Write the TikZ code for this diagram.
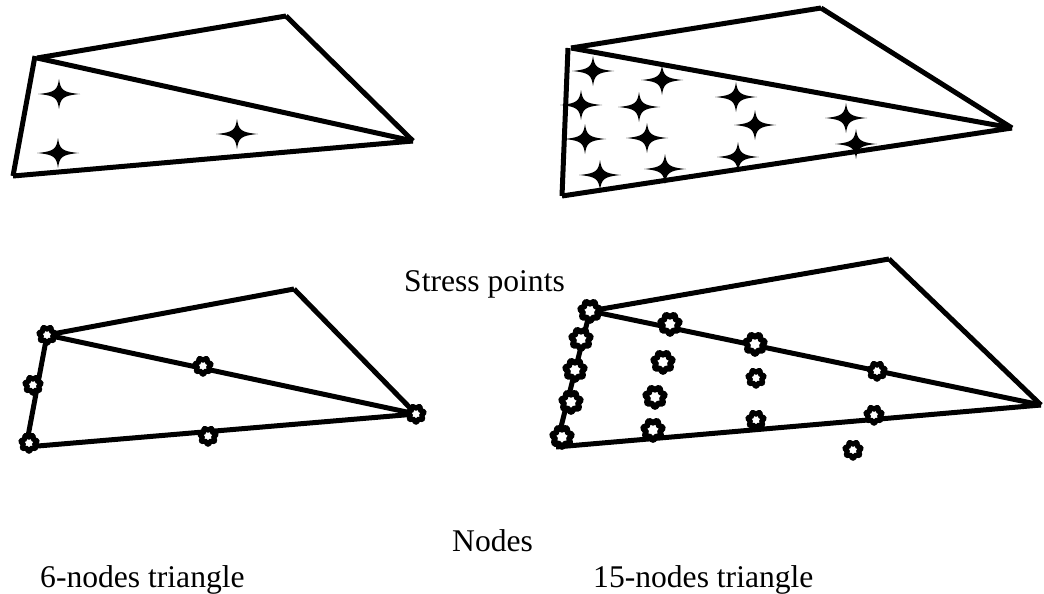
\documentclass[tikz,border=0pt]{standalone}
\usepackage{fontspec}
\setmainfont{Liberation Serif}
\newcommand{\ringpath}[2]{plot[domain=0:353.57,samples=56,smooth cycle] ({(#1+#2*cos(7*\x+90))*cos(\x)},{(#1+#2*cos(7*\x+90))*sin(\x)})}
\begin{document}
\begin{tikzpicture}[x=1pt,y=-1pt,line cap=butt,
  edge/.style={line width=5pt,black},
  lab/.style={inner sep=0pt,anchor=base west,font=\fontsize{31.6pt}{36pt}\selectfont},
  sp/.pic={\fill[black] (-21,0) .. controls (-4,-1.5) and (-1.5,-4) .. (0,-15) .. controls (1.5,-4) and (4,-1.5) .. (21,0) .. controls (4,1.5) and (1.5,4) .. (0,15) .. controls (-1.5,4) and (-4,1.5) .. (-21,0) -- cycle;},
  ndbig/.pic={\draw[line width=5.6pt,black,fill=white] \ringpath{8.6}{1.3};},
  ndsmall/.pic={\draw[line width=5pt,black,fill=white] \ringpath{7}{1.1};}]
\useasboundingbox (0,0) rectangle (1044,594);
% top left element
\coordinate (a1) at (35,56); \coordinate (a1b) at (37,58); \coordinate (b1) at (286,16);
\coordinate (c1) at (413,141); \coordinate (d1) at (13,176);
\draw[edge] (a1b) -- (b1); \draw[edge] (b1) -- (c1); \draw[edge] (a1b) -- (c1);
\draw[edge] (d1) -- (c1); \draw[edge] (d1) -- (a1);
\foreach \p in {(59,94),(58,153),(237,134)} \pic at \p {sp};
% top right element
\coordinate (a2) at (568,48); \coordinate (a2b) at (571,48); \coordinate (b2) at (821,8);
\coordinate (c2) at (1012,128); \coordinate (d2) at (562,196);
\draw[edge] (a2b) -- (b2); \draw[edge] (b2) -- (c2); \draw[edge] (a2b) -- (c2);
\draw[edge] (d2) -- (c2); \draw[edge] (d2) -- (a2);
\foreach \p in {(593,71),(662,80),(736,97),(581,105),(639,107),(755,125),(846,118),(585,139),(647,138),(856,144),(738,157),(665,169),(600,175)} \pic at \p {sp};
% bottom left element
\coordinate (a3) at (47,335); \coordinate (b3) at (294,289); \coordinate (c3) at (416,414); \coordinate (d3) at (26,447);
\draw[edge] (a3) -- (b3); \draw[edge] (b3) -- (c3); \draw[edge] (a3) -- (c3);
\draw[edge] (d3) -- (c3); \draw[edge] (d3) -- (a3);
\foreach \p in {(47,335),(33,385),(29,443),(203,366),(208,436),(416,414)} \pic at \p {ndsmall};
% bottom right element
\coordinate (a4) at (590,311); \coordinate (b4) at (889,259); \coordinate (c4) at (1041,405); \coordinate (d4) at (556,447);
\draw[edge] (a4) -- (b4); \draw[edge] (b4) -- (c4); \draw[edge] (a4) -- (c4);
\draw[edge] (d4) -- (c4); \draw[edge] (d4) -- (a4);
\foreach \p in {(590,311),(581,339),(575,370),(571,402),(562,437),(670,324),(755,344),(663,362),(655,397),(653,430)} \pic at \p {ndbig};
\foreach \p in {(877,371),(756,378),(756,420),(874,415),(853,450)} \pic at \p {ndsmall};
% labels
\node[lab] (t1) at (404,291.5) {Stress points};
\node[lab] (t2) at (452,551) {Nodes};
\node[lab] (t3) at (40,587) {6-nodes triangle};
\node[lab] (t4) at (593,587) {15-nodes triangle};
\end{tikzpicture}
\end{document}
